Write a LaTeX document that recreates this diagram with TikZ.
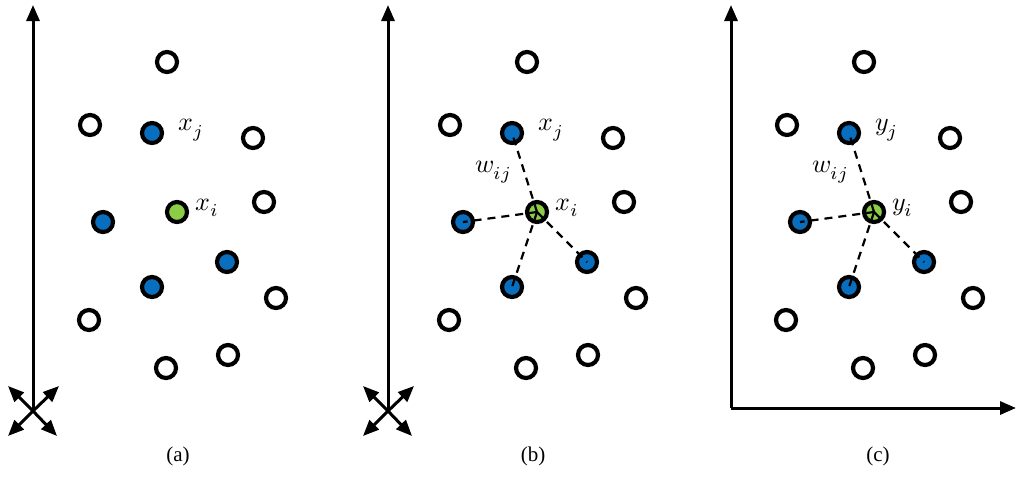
\documentclass[tikz,border=0pt]{standalone}
\usepackage{fontspec}
\setmainfont{Liberation Serif}
\usepackage{unicode-math}
\setmathfont{Latin Modern Math}
\usepackage{graphicx}
\usetikzlibrary{arrows.meta}
\newcommand{\biglabtxt}[1]{\scalebox{2.6}{#1}}
\newcommand{\bigcaptxt}[1]{\scalebox{2.1}{#1}}
\begin{document}
\begin{tikzpicture}[x=1pt,y=-1pt,
 dot/.style={circle,draw=black,line width=4.2pt,minimum size=20pt,inner sep=0pt},
 open/.style={dot,fill=white},
 ax/.style={line width=3pt,-{Triangle[length=16pt,width=13pt]}},
 ed/.style={line width=2.2pt,dash pattern=on 8pt off 6pt},
 lab/.style={inner sep=0pt},
 captxt/.style={inner sep=0pt}]
\useasboundingbox (0,0) rectangle (1024,477);
\definecolor{bl}{RGB}{10,110,190}\definecolor{gr}{RGB}{140,205,70}
\tikzset{blue/.style={dot,fill=bl},green/.style={dot,fill=gr}}
% axes
\coordinate (a0) at (33,410); \coordinate (a1) at (33,5);
\draw[ax] (a0) -- (a1);
\coordinate (ac1) at (8,436);\coordinate (ac2) at (57,436);\coordinate (ac3) at (8,386);\coordinate (ac4) at (59,386);
\foreach \t in {ac1,ac2,ac3,ac4}\draw[ax] (33,411) -- (\t);
\coordinate (b0) at (388,410); \coordinate (b1) at (388,5);
\draw[ax] (b0) -- (b1);
\coordinate (bc1) at (363,436);\coordinate (bc2) at (412,436);\coordinate (bc3) at (363,386);\coordinate (bc4) at (414,386);
\foreach \t in {bc1,bc2,bc3,bc4}\draw[ax] (388,411) -- (\t);
\coordinate (c0) at (731,408); \coordinate (c1) at (731,5); \coordinate (c2) at (1016,408);
\draw[ax] (c0) -- (c1); \draw[ax] (c0) -- (c2);
% panels
\foreach \o/\n in {0/a,360/b,697/c}{
 \begin{scope}[xshift=\o]
 \node[open] (\n o1) at (167,62) {};
 \node[open] (\n o2) at (90,125) {};
 \node[open] (\n o3) at (253,138) {};
 \node[open] (\n o4) at (264,202) {};
 \node[open] (\n o5) at (276,298) {};
 \node[open] (\n o6) at (89,320) {};
 \node[open] (\n o7) at (228,355) {};
 \node[open] (\n o8) at (166,368) {};
 \node[blue] (\n j) at (152,133) {};
 \node[blue] (\n b2) at (103,222) {};
 \node[blue] (\n b3) at (227,262) {};
 \node[blue] (\n b4) at (152,287) {};
 \node[green] (\n i) at (177,212) {};
 \end{scope}}
\foreach \n in {b,c}{
 \foreach \m in {j,b2,b3,b4}\draw[ed] (\n i.center) -- (\n\m.center);}
\node[lab,anchor=west] (lxj) at (178,130) {\biglabtxt{$x_{j}$}};
\node[lab,anchor=west] (lxi) at (195,208) {\biglabtxt{$x_{i}$}};
\node[lab,anchor=west] (lbxj) at (538,130) {\biglabtxt{$x_{j}$}};
\node[lab,anchor=west] (lbxi) at (555,208) {\biglabtxt{$x_{i}$}};
\node[lab] (lbw) at (493,172) {\biglabtxt{$w_{ij}$}};
\node[lab,anchor=west] (lcyj) at (875,130) {\biglabtxt{$y_{j}$}};
\node[lab,anchor=west] (lcyi) at (892,208) {\biglabtxt{$y_{i}$}};
\node[lab] (lcw) at (830,172) {\biglabtxt{$w_{ij}$}};
\node[captxt] (capa) at (178,456) {\bigcaptxt{(a)}};
\node[captxt] (capb) at (533,456) {\bigcaptxt{(b)}};
\node[captxt] (capc) at (878,456) {\bigcaptxt{(c)}};
\end{tikzpicture}
\end{document}
